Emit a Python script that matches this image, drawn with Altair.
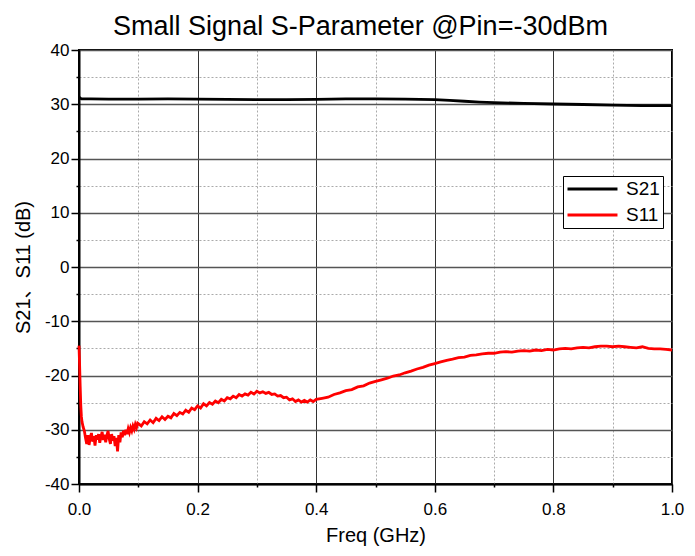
import altair as alt
import pandas as pd

# ---------------- data ----------------
s21_freq = [0.0, 0.004, 0.02, 0.05, 0.1, 0.15, 0.2, 0.25, 0.3, 0.35, 0.4, 0.45,
            0.5, 0.55, 0.6, 0.625, 0.65, 0.675, 0.7, 0.75, 0.8, 0.85, 0.9, 0.95, 1.0]
s21_db = [31.3, 31.0, 31.0, 30.95, 30.95, 31.0, 30.95, 30.9, 30.85, 30.85, 30.9, 31.0,
          31.0, 30.95, 30.85, 30.7, 30.55, 30.4, 30.3, 30.15, 30.05, 29.95, 29.85, 29.75, 29.75]

s11_freq = [0.0, 0.001, 0.002, 0.003, 0.004, 0.005, 0.007, 0.009, 0.011, 0.013, 0.015,
            0.017, 0.019, 0.021, 0.023, 0.025, 0.027, 0.029, 0.031, 0.033, 0.035, 0.037,
            0.039, 0.041, 0.043, 0.045, 0.047, 0.049, 0.051, 0.053, 0.055, 0.057, 0.059,
            0.061, 0.063, 0.065, 0.067, 0.069, 0.071, 0.073, 0.075, 0.077, 0.079, 0.081,
            0.083, 0.085, 0.087, 0.089, 0.091, 0.093, 0.095, 0.097, 0.099,
            0.105, 0.11, 0.115, 0.12, 0.125, 0.13, 0.135, 0.14, 0.145, 0.15, 0.155, 0.16,
            0.165, 0.17, 0.175, 0.18, 0.185, 0.19, 0.195, 0.2, 0.205, 0.21, 0.215, 0.22,
            0.225, 0.23, 0.235, 0.24, 0.245, 0.25, 0.255, 0.26, 0.265, 0.27, 0.275, 0.28,
            0.285, 0.29, 0.295, 0.3, 0.305, 0.31, 0.315, 0.32, 0.325, 0.33, 0.335, 0.34,
            0.345, 0.35, 0.355, 0.36, 0.365, 0.37, 0.375, 0.38, 0.385, 0.39, 0.395, 0.4,
            0.41, 0.42, 0.43, 0.44, 0.45, 0.46, 0.47, 0.48, 0.49, 0.5, 0.51, 0.52, 0.53,
            0.54, 0.55, 0.56, 0.57, 0.58, 0.59, 0.6, 0.61, 0.62, 0.63, 0.64, 0.65, 0.66,
            0.67, 0.68, 0.69, 0.7, 0.71, 0.72, 0.73, 0.74, 0.75, 0.76, 0.77, 0.78, 0.79,
            0.8, 0.81, 0.82, 0.83, 0.84, 0.85, 0.86, 0.87, 0.88, 0.89, 0.9, 0.91, 0.92,
            0.93, 0.94, 0.95, 0.96, 0.97, 0.98, 0.99, 1.0]
s11_db = [-14.5, -18.0, -22.0, -25.5, -27.5, -28.5, -29.5, -30.2, -31.5, -32.6, -31.0,
          -32.8, -31.4, -30.6, -32.2, -31.2, -32.9, -31.0, -31.8, -30.8, -32.4, -31.3,
          -30.4, -31.9, -30.9, -32.3, -31.1, -30.2, -31.7, -32.6, -30.8, -32.0, -31.2,
          -33.0, -31.5, -34.0, -31.0, -32.3, -30.5, -31.4, -30.2, -31.0, -30.0, -30.8,
          -29.8, -30.5, -29.6, -30.2, -29.3, -29.9, -29.0, -29.6, -28.8,
          -29.3, -28.5, -28.9, -28.2, -28.7, -27.9, -28.3, -27.6, -28.1, -27.5, -27.8, -27.0,
          -27.4, -26.8, -27.1, -26.4, -26.8, -26.0, -26.3, -25.6, -26.0, -25.2, -25.6, -25.0,
          -25.3, -24.7, -25.0, -24.4, -24.7, -24.1, -24.3, -23.8, -24.1, -23.5, -23.8, -23.4,
          -23.6, -23.1, -23.4, -22.9, -23.2, -23.0, -23.3, -23.1, -23.5, -23.4, -23.8, -23.7,
          -24.1, -24.0, -24.5, -24.3, -24.8, -24.5, -24.9, -24.6, -24.9, -24.5, -24.8, -24.4,
          -24.2, -24.0, -23.5, -23.2, -22.8, -22.6, -22.1, -21.9, -21.4, -21.1, -20.8, -20.5,
          -20.1, -19.9, -19.5, -19.2, -18.8, -18.5, -18.1, -17.8, -17.5, -17.2, -17.0, -16.7,
          -16.6, -16.3, -16.2, -16.0, -15.9, -15.9, -15.7, -15.6, -15.7, -15.5, -15.4, -15.5,
          -15.3, -15.4, -15.2, -15.3, -15.1, -15.0, -15.1, -14.9, -14.8, -14.9, -14.7, -14.6,
          -14.6, -14.7, -14.6, -14.7, -14.8, -14.9, -14.7, -15.0, -15.1, -15.1, -15.2, -15.3]

x_ticks = [0.0, 0.1, 0.2, 0.3, 0.4, 0.5, 0.6, 0.7, 0.8, 0.9, 1.0]
y_ticks = [-40, -35, -30, -25, -20, -15, -10, -5, 0, 5, 10, 15, 20, 25, 30, 35, 40]
series = ["S21", "S11"]
colors = ["#000000", "#ff0000"]

df = pd.concat([
    pd.DataFrame({"freq": s21_freq, "value": s21_db, "series": "S21"}),
    pd.DataFrame({"freq": s11_freq, "value": s11_db, "series": "S11"}),
], ignore_index=True)

FONT = "Liberation Sans, Arial, Noto Sans CJK SC"

x_major = "round(datum.value * 10) % 2 === 0"
y_major = "datum.value % 10 === 0"

x_axis = alt.Axis(
    values=x_ticks, title="Freq (GHz)",
    labelExpr=f"{x_major} ? format(datum.value, '.1f') : ''",
    tickSize=alt.condition(x_major, alt.value(8), alt.value(3)),
    gridDash=alt.condition(x_major, alt.value([]), alt.value([2, 2])),
    gridColor=alt.condition(x_major, alt.value("#333333"), alt.value("#aaaaaa")),
    labelFlush=False, labelOverlap=False, labelPadding=9, titlePadding=8,
)
y_axis = alt.Axis(
    values=y_ticks, title="S21、S11 (dB)",
    labelExpr=f"{y_major} ? datum.value : ''",
    tickSize=alt.condition(y_major, alt.value(8), alt.value(3)),
    gridDash=alt.condition(y_major, alt.value([]), alt.value([2, 2])),
    gridColor=alt.condition(y_major, alt.value("#555555"), alt.value("#aaaaaa")),
    gridWidth=alt.condition(y_major, alt.value(1.5), alt.value(1)),
    labelFlush=False, labelOverlap=False, labelPadding=2, titlePadding=11,
)

chart = alt.Chart(df).mark_line(strokeWidth=2.8).encode(
    x=alt.X("freq:Q", scale=alt.Scale(domain=[0, 1], nice=False, zero=False), axis=x_axis),
    y=alt.Y("value:Q", scale=alt.Scale(domain=[-40, 40], nice=False), axis=y_axis),
    color=alt.Color(
        "series:N",
        scale=alt.Scale(domain=series, range=colors),
        legend=alt.Legend(
            title=None, orient="none", legendX=484, legendY=126,
            symbolType="M-1,0H4.88", symbolSize=289, symbolStrokeWidth=3,
            labelFontSize=19, labelFont=FONT, labelColor="black", labelOffset=40,
            rowPadding=6, padding=3, strokeColor="black", fillColor="white",
        ),
    ),
    detail="series:N",
).properties(
    width=593, height=434,
    title=alt.TitleParams(
        "Small Signal S-Parameter @Pin=-30dBm", fontSize=27, font=FONT,
        fontWeight="normal", color="black", anchor="middle", offset=0, dx=-15,
    ),
    padding={"left": 71, "top": 42, "right": 14, "bottom": 64},
    autosize=alt.AutoSizeParams(type="none"),
).configure_view(
    stroke="black", strokeWidth=2,
).configure_axis(
    domainColor="black", domainWidth=2, tickColor="black", tickWidth=1.5,
    labelFont=FONT, labelFontSize=17, labelColor="black",
    titleFont=FONT, titleFontSize=20, titleFontWeight="normal", titleColor="black",
    grid=True, gridWidth=1,
)

chart.save("out.html", embed_options={"renderer": "svg", "actions": False})
